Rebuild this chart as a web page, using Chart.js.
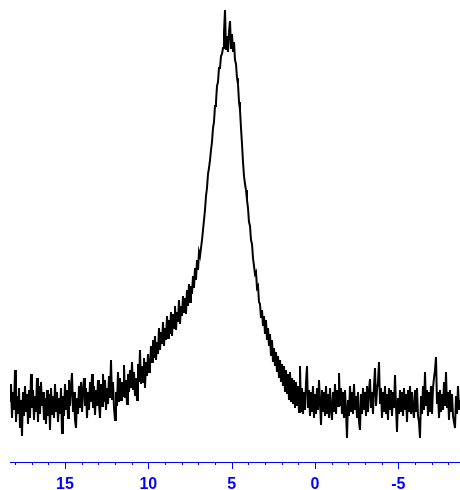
<!DOCTYPE html>
<html>
<head>
<meta charset="utf-8">
<script src="https://cdn.jsdelivr.net/npm/chart.js@4/dist/chart.umd.min.js"></script>
<style>
html,body{margin:0;padding:0;background:#fff;}
#wrap{width:460px;height:490px;position:relative;}
</style>
</head>
<body>
<div id="wrap"><canvas id="c"></canvas></div>
<script>
// Chemical shift (ppm) sampling points
const ppm = [
18.30,18.24,18.18,18.12,18.06,18.00,17.94,17.88,17.82,17.76,17.70,17.64,17.58,17.52,17.46,17.40,17.34,17.28,17.22,17.16,17.10,17.04,16.98,16.92,16.86,16.80,16.74,16.68,16.62,16.56,16.50,16.44,16.38,16.32,16.26,16.20,16.14,16.08,16.02,15.96,15.90,15.84,15.78,15.72,15.66,15.60,15.54,15.48,15.42,15.36,
15.30,15.24,15.18,15.12,15.06,15.00,14.94,14.88,14.82,14.76,14.70,14.64,14.58,14.52,14.46,14.40,14.34,14.28,14.22,14.16,14.10,14.04,13.98,13.92,13.86,13.80,13.74,13.68,13.62,13.56,13.50,13.44,13.38,13.32,13.26,13.20,13.14,13.08,13.02,12.96,12.90,12.84,12.78,12.72,12.66,12.60,12.54,12.48,12.42,12.36,
12.30,12.24,12.18,12.12,12.06,12.00,11.94,11.88,11.82,11.76,11.70,11.64,11.58,11.52,11.46,11.40,11.34,11.28,11.22,11.16,11.10,11.04,10.98,10.92,10.86,10.80,10.74,10.68,10.62,10.56,10.50,10.44,10.38,10.32,10.26,10.20,10.14,10.08,10.02,9.96,9.90,9.84,9.78,9.72,9.66,9.60,9.54,9.48,9.42,9.36,
9.30,9.24,9.18,9.12,9.06,9.00,8.94,8.88,8.82,8.76,8.70,8.64,8.58,8.52,8.46,8.40,8.34,8.28,8.22,8.16,8.10,8.04,7.98,7.92,7.86,7.80,7.74,7.68,7.62,7.56,7.50,7.44,7.38,7.32,7.26,7.20,7.14,7.08,7.02,6.96,6.90,6.84,6.78,6.72,6.66,6.60,6.54,6.48,6.42,6.36,
6.30,6.24,6.18,6.12,6.06,6.00,5.94,5.88,5.82,5.76,5.70,5.64,5.58,5.52,5.46,5.40,5.34,5.28,5.22,5.16,5.10,5.04,4.98,4.92,4.86,4.80,4.74,4.68,4.62,4.56,4.50,4.44,4.38,4.32,4.26,4.20,4.14,4.08,4.02,3.96,3.90,3.84,3.78,3.72,3.66,3.60,3.54,3.48,3.42,3.36,
3.30,3.24,3.18,3.12,3.06,3.00,2.94,2.88,2.82,2.76,2.70,2.64,2.58,2.52,2.46,2.40,2.34,2.28,2.22,2.16,2.10,2.04,1.98,1.92,1.86,1.80,1.74,1.68,1.62,1.56,1.50,1.44,1.38,1.32,1.26,1.20,1.14,1.08,1.02,0.96,0.90,0.84,0.78,0.72,0.66,0.60,0.54,0.48,0.42,0.36,
0.30,0.24,0.18,0.12,0.06,0.00,-0.06,-0.12,-0.18,-0.24,-0.30,-0.36,-0.42,-0.48,-0.54,-0.60,-0.66,-0.72,-0.78,-0.84,-0.90,-0.96,-1.02,-1.08,-1.14,-1.20,-1.26,-1.32,-1.38,-1.44,-1.50,-1.56,-1.62,-1.68,-1.74,-1.80,-1.86,-1.92,-1.98,-2.04,-2.10,-2.16,-2.22,-2.28,-2.34,-2.40,-2.46,-2.52,-2.58,-2.64,
-2.70,-2.76,-2.82,-2.88,-2.94,-3.00,-3.06,-3.12,-3.18,-3.24,-3.30,-3.36,-3.42,-3.48,-3.54,-3.60,-3.66,-3.72,-3.78,-3.84,-3.90,-3.96,-4.02,-4.08,-4.14,-4.20,-4.26,-4.32,-4.38,-4.44,-4.50,-4.56,-4.62,-4.68,-4.74,-4.80,-4.86,-4.92,-4.98,-5.04,-5.10,-5.16,-5.22,-5.28,-5.34,-5.40,-5.46,-5.52,-5.58,-5.64,
-5.70,-5.76,-5.82,-5.88,-5.94,-6.00,-6.06,-6.12,-6.18,-6.24,-6.30,-6.36,-6.42,-6.48,-6.54,-6.60,-6.66,-6.72,-6.78,-6.84,-6.90,-6.96,-7.02,-7.08,-7.14,-7.20,-7.26,-7.32,-7.38,-7.44,-7.50,-7.56,-7.62,-7.68,-7.74,-7.80,-7.86,-7.92,-7.98,-8.04,-8.10,-8.16,-8.22,-8.28,-8.34,-8.40,-8.46,-8.52,-8.58,-8.64,
-8.70
];

// Signal intensity (arbitrary units)
const intensity = [
60,78,44,70,52,92,40,66,48,74,34,62,26,70,46,76,50,68,38,72,
44,88,54,72,42,66,50,84,40,76,48,80,56,70,42,64,38,72,46,68,
32,74,48,66,44,78,50,70,40,64,
48,74,29,66,46,78,52,72,44,82,56,76,89,50,70,42,34,64,48,76,
54,80,50,72,84,56,74,44,70,52,80,60,88,54,76,47,72,56,82,58,
44,78,56,88,60,82,52,74,58,86,64,102,62,80,54,42,70,56,90,60,
84,62,80,66,97,64,82,58,88,70,92,74,100,72,90,66,84,62,98,80,
112,78,96,80,104,74,100,86,108,90,
96,116,100,122,104,126,102,120,108,134,112,130,118,140,116,134,122,146,124,142,
128,150,126,148,134,156,132,150,140,162,138,156,146,166,150,164,148,172,156,178,
160,176,168,186,174,194,182,202,192,210,
206,214,222,232,242,252,266,274,288,294,302,312,320,334,340,356,360,376,380,394,394,406,408,
414,430,452,412,426,410,430,441,414,428,410,420,402,
398,384,378,360,352,334,318,300,286,278,272,262,254,240,236,222,218,204,204,188,190,174,176,160,
158,144,152,136,146,128,142,122,134,116,128,106,122,100,114,96,110,90,106,84,
102,80,98,76,96,70,92,68,88,62,90,60,84,58,82,54,80,56,76,50,
96,50,74,48,70,52,80,96,54,72,46,70,50,76,44,68,48,74,52,82,60,37,72,50,70,46,76,48,68,44,74,52,42,70,50,78,48,72,56,89,
56,74,48,70,44,72,50,24,62,46,76,50,70,48,78,52,66,44,70,40,32,68,48,74,52,70,46,76,50,72,83,54,70,48,76,94,56,72,80,100,
58,74,44,70,50,76,48,68,42,74,52,72,46,70,54,87,56,30,64,48,72,50,70,46,74,52,68,40,72,50,76,48,70,52,44,72,50,74,46,40,
24,66,48,76,52,90,56,72,46,70,50,76,48,74,84,92,105,58,70,44,72,50,68,52,80,56,90,54,70,42,72,50,68,46,40,34,66,48,76,52,
62
];

// Axis ticks (ppm): every unit, labelled every 5
const tickValues = [18,17,16,15,14,13,12,11,10,9,8,7,6,5,4,3,2,1,0,-1,-2,-3,-4,-5,-6,-7,-8];
const labelledTicks = [15,10,5,0,-5];

const xMin = -8.7, xMax = 18.3;
const yMin = 0, yMax = 462;

const points = ppm.map((x, i) => ({x: x, y: intensity[i]}));
const AXIS_BLUE = '#0000ff';

const tickPlugin = {
  id: 'nmrTicks',
  afterDraw(chart) {
    const s = chart.scales.x;
    const ctx = chart.ctx;
    ctx.save();
    ctx.strokeStyle = AXIS_BLUE;
    ctx.lineWidth = 1;
    s.ticks.forEach(t => {
      const px = Math.round(s.getPixelForValue(t.value)) + 0.5;
      const len = labelledTicks.includes(t.value) ? 7 : 3;
      ctx.beginPath();
      ctx.moveTo(px, s.top);
      ctx.lineTo(px, s.top + len);
      ctx.stroke();
    });
    ctx.restore();
  }
};

new Chart(document.getElementById('c'), {
  type: 'line',
  data: {
    datasets: [{
      data: points,
      borderColor: '#000000',
      borderWidth: 2,
      pointRadius: 0,
      tension: 0,
      fill: false
    }]
  },
  options: {
    responsive: true,
    maintainAspectRatio: false,
    animation: false,
    layout: {padding: {left: 10, right: 0, top: 0, bottom: 0}},
    plugins: {legend: {display: false}, tooltip: {enabled: false}},
    scales: {
      x: {
        type: 'linear',
        reverse: true,
        min: xMin,
        max: xMax,
        afterBuildTicks: scale => { scale.ticks = tickValues.map(v => ({value: v})); },
        afterFit: scale => { scale.height = 28; },
        grid: {display: true, drawOnChartArea: false, drawTicks: true, tickLength: 7, tickColor: 'rgba(0,0,0,0)'},
        border: {display: true, color: AXIS_BLUE, width: 1},
        ticks: {
          autoSkip: false,
          maxRotation: 0,
          padding: 5.5,
          color: AXIS_BLUE,
          font: {family: '"Liberation Sans", Arial, sans-serif', size: 16, weight: 'bold'},
          callback: v => (labelledTicks.includes(v) ? String(v) : '')
        }
      },
      y: {display: false, min: yMin, max: yMax}
    }
  },
  plugins: [tickPlugin]
});
</script>
</body>
</html>
